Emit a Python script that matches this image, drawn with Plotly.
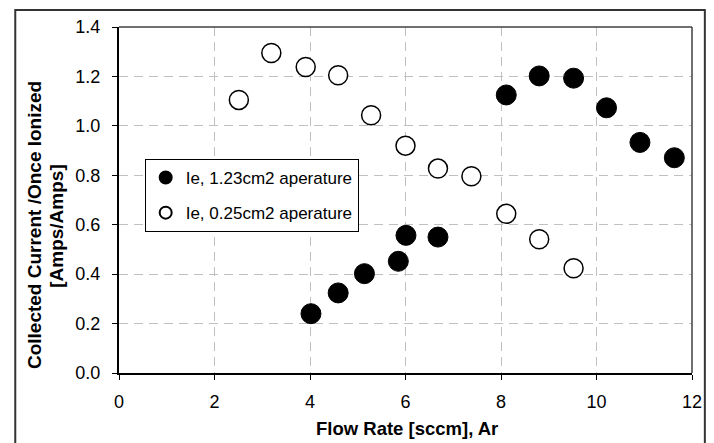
import plotly.graph_objects as go

# Data
flow_large = [4.02, 4.59, 5.14, 5.85, 6.01, 6.68, 8.11, 8.80, 9.52, 10.21, 10.91, 11.63]
ie_large = [0.240, 0.324, 0.402, 0.452, 0.557, 0.550, 1.125, 1.202, 1.193, 1.073, 0.933, 0.871]

flow_small = [2.51, 3.19, 3.91, 4.59, 5.28, 6.00, 6.68, 7.38, 8.11, 8.80, 9.52]
ie_small = [1.105, 1.295, 1.238, 1.205, 1.043, 0.920, 0.827, 0.796, 0.644, 0.541, 0.424]

name_large = "Ie, 1.23cm2 aperature"
name_small = "Ie, 0.25cm2 aperature"
x_title = "Flow Rate [sccm], Ar"
y_title_1 = "Collected Current /Once Ionized"
y_title_2 = "[Amps/Amps]"

FONT = "Liberation Sans, Arial, sans-serif"

W, H = 714, 443
L, R, T, B = 119, 15, 27, 70
PW, PH = W - L - R, H - T - B

def px2x(px):
    return (px - L) / PW

def py2y(py):
    return (H - B - py) / PH

fig = go.Figure()
fig.add_trace(go.Scatter(
    x=flow_large, y=ie_large, mode="markers", name=name_large,
    legendgroup="a",
    marker=dict(size=20, color="black", line=dict(color="black", width=1)),
))
fig.add_trace(go.Scatter(
    x=flow_small, y=ie_small, mode="markers", name=name_small,
    legendgroup="b",
    marker=dict(size=19, color="white", line=dict(color="black", width=1.5)),
))

axis_common = dict(
    showline=True, linecolor="black", linewidth=2,
    ticks="outside", ticklen=5, tickwidth=1, tickcolor="black",
    showgrid=True, gridcolor="#c0c0c0", gridwidth=1, griddash="9px,6px",
    zeroline=False,
    tickfont=dict(family=FONT, size=18, color="black"),
)

fig.update_xaxes(range=[0, 12], dtick=2, tick0=0, ticklabelstandoff=6, **axis_common)
fig.update_yaxes(range=[0, 1.4], dtick=0.2, tick0=0, tickformat=".1f",
                 ticklabelstandoff=8, **axis_common)

shapes = [
    # top and right frame of plot area
    dict(type="line", xref="paper", yref="paper", x0=0, x1=1, y0=1, y1=1,
         line=dict(color="#404040", width=1.5), layer="above"),
    dict(type="line", xref="paper", yref="paper", x0=1, x1=1, y0=0, y1=1,
         line=dict(color="#404040", width=1.5), layer="above"),
    # outer chart border
    dict(type="rect", xref="paper", yref="paper",
         x0=px2x(14), x1=px2x(712), y0=py2y(450), y1=py2y(10),
         line=dict(color="#333333", width=2), fillcolor="rgba(0,0,0,0)", layer="above"),
]

annotations = [
    dict(text=x_title, xref="paper", yref="paper", x=px2x(411), y=py2y(428),
         xanchor="center", yanchor="middle", showarrow=False,
         font=dict(family=FONT, size=18.5, color="black", weight="bold")),
    dict(text=y_title_1, xref="paper", yref="paper", x=px2x(33), y=py2y(225),
         xanchor="center", yanchor="middle", showarrow=False, textangle=-90,
         font=dict(family=FONT, size=19, color="black", weight="bold")),
    dict(text=y_title_2, xref="paper", yref="paper", x=px2x(55), y=py2y(226),
         xanchor="center", yanchor="middle", showarrow=False, textangle=-90,
         font=dict(family=FONT, size=19, color="black", weight="bold")),
]

fig.update_layout(
    width=W, height=H,
    margin=dict(l=L, r=R, t=T, b=B, pad=0),
    paper_bgcolor="white", plot_bgcolor="white",
    font=dict(family=FONT, size=17, color="black"),
    showlegend=True,
    legend=dict(
        x=px2x(145), y=py2y(159), xanchor="left", yanchor="top",
        bgcolor="white", bordercolor="black", borderwidth=1,
        font=dict(family=FONT, size=17, color="black"),
        itemsizing="constant", tracegroupgap=10,
    ),
    shapes=shapes,
    annotations=annotations,
)

fig.write_html("out.html")
